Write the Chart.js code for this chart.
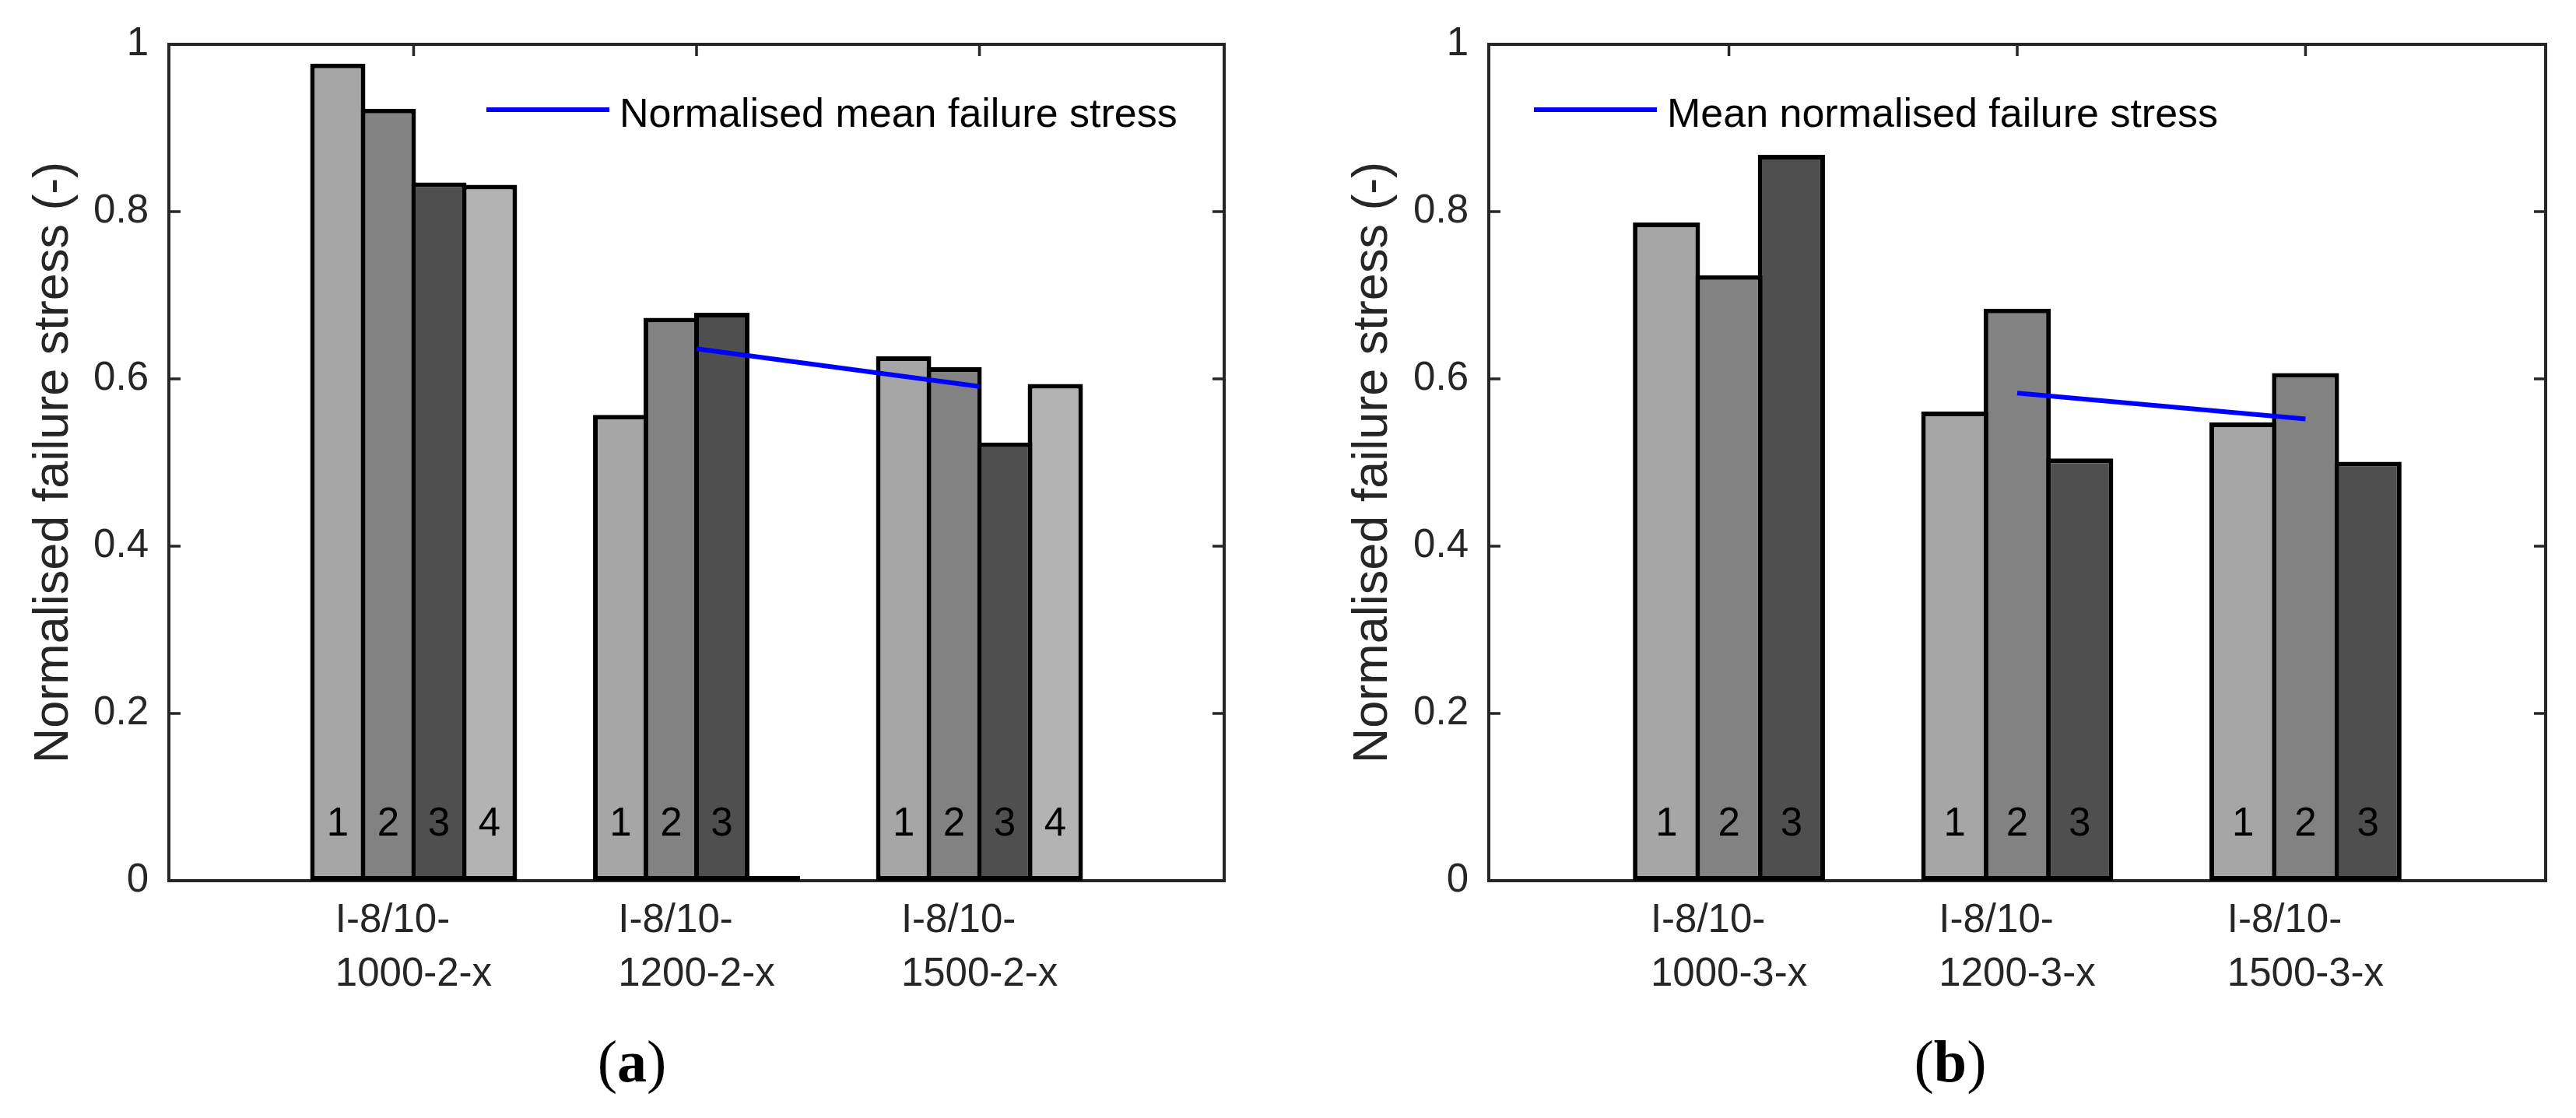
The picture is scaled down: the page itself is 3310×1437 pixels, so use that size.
<!DOCTYPE html>
<html><head><meta charset="utf-8">
<script src="https://cdn.jsdelivr.net/npm/chart.js@4.4.1/dist/chart.umd.min.js"></script>
<style>
html,body{margin:0;padding:0;background:#fff;}
body{width:3310px;height:1437px;position:relative;overflow:hidden;}
.panel{position:absolute;top:0;width:1655px;height:1437px;}
#pa{left:0}#pb{left:1655px}
.cap{position:absolute;font-family:"Liberation Serif","Times New Roman",serif;font-size:76px;line-height:1;color:#000;transform:translate(-50%,-50%);white-space:nowrap;}
</style></head><body>
<div class="panel" id="pa"><canvas id="ca"></canvas></div>
<div class="panel" id="pb"><canvas id="cb"></canvas></div>
<div class="cap" style="left:812px;top:1364px">(<b>a</b>)</div>
<div class="cap" style="left:2506px;top:1364px">(<b>b</b>)</div>
<script>
// ---- data ----
const categoriesA = [['I-8/10-','1000-2-x'],['I-8/10-','1200-2-x'],['I-8/10-','1500-2-x']];
const categoriesB = [['I-8/10-','1000-3-x'],['I-8/10-','1200-3-x'],['I-8/10-','1500-3-x']];
const categoryPositions = [1, 2, 3];
const specimenLabelsA = ['1','2','3','4'];
const specimenLabelsB = ['1','2','3'];
const specimen1A = [0.977, 0.557, 0.627];
const specimen2A = [0.923, 0.673, 0.614];
const specimen3A = [0.835, 0.679, 0.524];
const specimen4A = [0.832, 0, 0.594];
const meanA = [null, 0.636, 0.591];
const specimen1B = [0.787, 0.561, 0.548];
const specimen2B = [0.724, 0.684, 0.607];
const specimen3B = [0.868, 0.505, 0.501];
const meanB = [null, 0.583, 0.552];
const yTickValues = [0, 0.2, 0.4, 0.6, 0.8, 1];
const yTickLabels = ['0', '0.2', '0.4', '0.6', '0.8', '1'];
const yAxisTitle = 'Normalised failure stress (-)';
const legendA = 'Normalised mean failure stress';
const legendB = 'Mean normalised failure stress';

// ---- styles ----
const FONT = '"Liberation Sans", Arial, Helvetica, sans-serif';
const AXIS = '#262626';
const BAR_COLORS = ['#A6A6A6', '#828282', '#4F4F4F', '#B3B3B3'];

const decorPlugin = {
  id: 'decor',
  beforeDatasetsDraw(chart) {
    const {ctx, chartArea: a, scales: {x, y}} = chart;
    ctx.save();
    ctx.strokeStyle = AXIS;
    ctx.lineWidth = 4;
    ctx.strokeRect(a.left, a.top, a.right - a.left, a.bottom - a.top);
    ctx.lineWidth = 3.5;
    ctx.beginPath();
    yTickValues.forEach(v => {
      const py = y.getPixelForValue(v);
      ctx.moveTo(a.left, py); ctx.lineTo(a.left + 15, py);
      ctx.moveTo(a.right, py); ctx.lineTo(a.right - 15, py);
    });
    categoryPositions.forEach(v => {
      const px = x.getPixelForValue(v);
      ctx.moveTo(px, a.top); ctx.lineTo(px, a.top + 15);
      ctx.moveTo(px, a.bottom); ctx.lineTo(px, a.bottom - 15);
    });
    ctx.stroke();
    ctx.restore();
  },
  afterDatasetsDraw(chart, args, opts) {
    const {ctx, chartArea: a, scales: {x}} = chart;
    ctx.save();
    // specimen numbers inside bars
    ctx.font = '51px ' + FONT;
    ctx.fillStyle = '#000';
    ctx.textAlign = 'center';
    ctx.textBaseline = 'alphabetic';
    chart.data.datasets.forEach((ds, di) => {
      if (ds.type !== 'bar') return;
      const meta = chart.getDatasetMeta(di);
      meta.data.forEach((el, j) => {
        if (ds.data[j].y > 0) ctx.fillText(ds.label, el.x, a.bottom - 58);
      });
    });
    // category labels: block centred under tick, lines left-aligned
    ctx.fillStyle = AXIS;
    ctx.textAlign = 'left';
    opts.categories.forEach((lines, i) => {
      const cx = x.getPixelForValue(categoryPositions[i]);
      const w = Math.max(...lines.map(l => ctx.measureText(l).width));
      lines.forEach((l, k) => ctx.fillText(l, cx - w / 2, a.bottom + 66 + k * 69));
    });
    // legend
    const lineDs = chart.data.datasets.find(d => d.type === 'line');
    const lx = a.left + opts.legendOffset;
    ctx.strokeStyle = lineDs.borderColor;
    ctx.lineWidth = lineDs.borderWidth;
    ctx.beginPath();
    ctx.moveTo(lx, a.top + 84); ctx.lineTo(lx + 158, a.top + 84);
    ctx.stroke();
    ctx.fillStyle = '#000';
    ctx.font = '52px ' + FONT;
    ctx.fillText(lineDs.label, lx + 171, a.top + 106);
    ctx.restore();
  }
};

function makeChart(id, cats, series, labels, mean, legendText, o) {
  const datasets = series.map((s, i) => ({
    type: 'bar',
    label: labels[i],
    data: s.map((v, j) => ({x: categoryPositions[j], y: v})),
    backgroundColor: BAR_COLORS[i],
    borderColor: '#000',
    borderWidth: 6,
    borderSkipped: false,
    minBarLength: 6,
    categoryPercentage: o.catPct,
    barPercentage: o.barPct,
    order: 1
  }));
  datasets.push({
    type: 'line',
    label: legendText,
    data: mean.map((v, j) => ({x: categoryPositions[j], y: v})),
    borderColor: '#0000FF',
    borderWidth: 6,
    pointRadius: 0,
    fill: false,
    tension: 0,
    order: 0
  });
  return new Chart(document.getElementById(id), {
    data: {datasets},
    plugins: [decorPlugin],
    options: {
      responsive: true,
      maintainAspectRatio: false,
      devicePixelRatio: 1,
      animation: false,
      events: [],
      layout: {padding: {left: 0, top: 57, right: o.rightPad, bottom: 0}},
      plugins: {
        legend: {display: false},
        tooltip: {enabled: false},
        decor: {categories: cats, legendOffset: o.legendOffset}
      },
      scales: {
        x: {
          type: 'linear', min: o.xMin, max: o.xMax, offset: false,
          afterBuildTicks: s => { s.ticks = categoryPositions.map(v => ({value: v})); },
          ticks: {display: false},
          grid: {display: false, drawTicks: false, offset: false},
          border: {display: false},
          afterFit: s => { s.height = 305; }
        },
        y: {
          type: 'linear', min: 0, max: 1,
          afterBuildTicks: s => { s.ticks = yTickValues.map(v => ({value: v})); },
          ticks: {
            callback: (v, i) => yTickLabels[i],
            font: {family: FONT, size: 51},
            color: AXIS,
            padding: 26
          },
          grid: {display: false, drawTicks: false},
          border: {display: false},
          title: {
            display: true, text: yAxisTitle,
            font: {family: FONT, size: 63},
            color: AXIS,
            padding: {top: o.titlePad, bottom: 0}
          },
          afterFit: s => { s.width = o.yAxisWidth; }
        }
      }
    }
  });
}

makeChart('ca', categoriesA, [specimen1A, specimen2A, specimen3A, specimen4A], specimenLabelsA, meanA, legendA,
  {catPct: 0.715, barPct: 1.092, xMin: 0.135, xMax: 3.865, rightPad: 82, yAxisWidth: 217, titlePad: 32, legendOffset: 408});
makeChart('cb', categoriesB, [specimen1B, specimen2B, specimen3B], specimenLabelsB, meanB, legendB,
  {catPct: 0.65, barPct: 1.075, xMin: 0.167, xMax: 3.833, rightPad: 39, yAxisWidth: 258, titlePad: 72, legendOffset: 58});
</script>
</body></html>
